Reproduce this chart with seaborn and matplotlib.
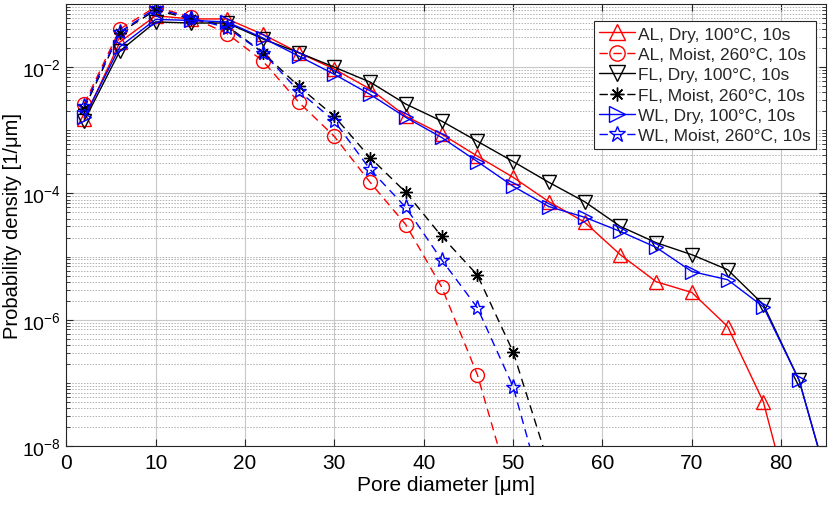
import numpy as np
import pandas as pd
import matplotlib
matplotlib.use("Agg")
import matplotlib.pyplot as plt
import matplotlib.ticker as mticker
import seaborn as sns

# ---- data ----
x_vals = [2, 6, 10, 14, 18, 22, 26, 30, 34, 38, 42, 46, 50, 54, 58, 62, 66, 70, 74, 78, 82, 86]

al_dry = [1.5e-3, 0.025, 0.065, 0.058, 0.058, 0.033, 0.017, 9.3e-3, 4.5e-3, 1.67e-3, 8.7e-4, 3.9e-4,
          1.8e-4, 7.4e-5, 3.5e-5, 1.07e-5, 4.0e-6, 2.7e-6, 7.8e-7, 5.0e-8, 3.5e-10]
fl_dry = [1.4e-3, 0.018, 0.052, 0.050, 0.050, 0.028, 0.017, 0.010, 5.8e-3, 2.6e-3, 1.4e-3, 6.7e-4,
          3.2e-4, 1.5e-4, 7.4e-5, 3.0e-5, 1.66e-5, 1.07e-5, 6.2e-6, 1.74e-6, 1.1e-7, 1.1e-9]
wl_dry = [1.6e-3, 0.021, 0.057, 0.055, 0.052, 0.029, 0.015, 7.7e-3, 3.7e-3, 1.6e-3, 7.7e-4, 3.2e-4,
          1.3e-4, 6.2e-5, 4.2e-5, 2.5e-5, 1.4e-5, 5.8e-6, 4.3e-6, 1.6e-6, 1.1e-7, 1.1e-9]

al_moist = [2.6e-3, 0.040, 0.090, 0.062, 0.034, 0.0125, 2.8e-3, 8.0e-4, 1.5e-4, 3.2e-5, 3.3e-6, 1.35e-7, 1.5e-9]
fl_moist = [2.2e-3, 0.035, 0.080, 0.058, 0.045, 0.017, 5.0e-3, 1.66e-3, 3.7e-4, 1.04e-4, 2.1e-5, 5.1e-6, 3.1e-7, 5e-9]
wl_moist = [2.4e-3, 0.036, 0.085, 0.060, 0.042, 0.017, 4.2e-3, 1.4e-3, 2.4e-4, 6.0e-5, 8.9e-6, 1.55e-6, 8.7e-8, 8e-10]

labels = ["AL, Dry, 100°C, 10s", "AL, Moist, 260°C, 10s", "FL, Dry, 100°C, 10s",
          "FL, Moist, 260°C, 10s", "WL, Dry, 100°C, 10s", "WL, Moist, 260°C, 10s"]
series = [al_dry, al_moist, fl_dry, fl_moist, wl_dry, wl_moist]

x_ticks = [0, 10, 20, 30, 40, 50, 60, 70, 80]
y_ticks = [1e-8, 1e-6, 1e-4, 1e-2]
y_ticklabels = [r"$10^{-8}$", r"$10^{-6}$", r"$10^{-4}$", r"$10^{-2}$"]

colors = ["#ff0000", "#ff0000", "#000000", "#000000", "#0000ff", "#0000ff"]
markers = ["^", "o", "v", (8, 2, 0), ">", "*"]
lstyles = ["-", (0, (6, 4)), "-", (0, (6, 4)), "-", (0, (6, 4))]
msizes = [10, 10, 10, 9, 10, 11]

sns.set_theme(style="white")
plt.rcParams["font.family"] = ["Liberation Sans", "DejaVu Sans"]
plt.rcParams["mathtext.fontset"] = "custom"
plt.rcParams["mathtext.rm"] = "Liberation Sans"
plt.rcParams["mathtext.it"] = "Liberation Sans:italic"
plt.rcParams["mathtext.bf"] = "Liberation Sans:bold"

fig = plt.figure(figsize=(8.33, 5.06), dpi=100)
ax = fig.add_axes([0.0795, 0.1166, 0.912, 0.8735])

for lab, ys, c, m, ls, ms in zip(labels, series, colors, markers, lstyles, msizes):
    df = pd.DataFrame({"x": x_vals[:len(ys)], "y": ys})
    sns.lineplot(data=df, x="x", y="y", ax=ax, color=c, marker=m, linestyle=ls,
                 markersize=ms, markerfacecolor="none", markeredgecolor=c,
                 markeredgewidth=1.0, linewidth=1.0, label=lab, sort=False,
                 estimator=None)

ax.set_yscale("log")
ax.set_xlim(0, 85)
ax.set_ylim(1e-8, 1e-1)

ax.set_xticks(x_ticks)
ax.set_xticklabels([str(t) for t in x_ticks])
ax.yaxis.set_major_locator(mticker.FixedLocator(y_ticks))
ax.set_yticklabels(y_ticklabels)
minor_y = []
for e in range(-8, -1):
    for n in range(1, 10):
        if not (n == 1 and e in (-8, -6, -4, -2)):
            minor_y.append(n * 10.0 ** e)
ax.yaxis.set_minor_locator(mticker.FixedLocator(minor_y))
ax.yaxis.set_minor_formatter(mticker.NullFormatter())

ax.grid(True, which="major", axis="both", color="#c8c8c8", linestyle="-", linewidth=0.8)
ax.grid(True, which="minor", axis="y", color="#b0b0b0", linestyle=(0, (1.5, 1.5)), linewidth=0.7)
ax.set_axisbelow(True)

ax.tick_params(axis="both", which="major", direction="in", length=5, width=0.8,
               colors="#262626", bottom=True, left=True, top=True, right=True)
ax.tick_params(axis="x", which="major", labelsize=15, pad=5)
ax.tick_params(axis="y", which="major", labelsize=14, pad=4)
ax.tick_params(axis="y", which="minor", direction="in", length=3, width=0.6,
               left=True, right=True, colors="#262626")
ax.tick_params(axis="both", which="major", labelcolor="black")
for s in ax.spines.values():
    s.set_color("#262626")
    s.set_linewidth(0.8)

ax.set_xlabel("Pore diameter [μm]", fontsize=15, color="black", labelpad=2)
ax.set_ylabel("Probability density [1/μm]", fontsize=14.5, color="black")
ax.yaxis.set_label_coords(-0.058, 0.5)

leg = ax.legend(loc="upper right", bbox_to_anchor=(0.9935, 0.973), fontsize=12.5,
                frameon=True, fancybox=False, edgecolor="#262626", framealpha=1,
                handlelength=2.1, handletextpad=0.15, labelspacing=0.3,
                borderpad=0.3, borderaxespad=0.3, markerscale=1.1)
leg.get_frame().set_linewidth(0.8)

fig.savefig("out.png", dpi=100)
